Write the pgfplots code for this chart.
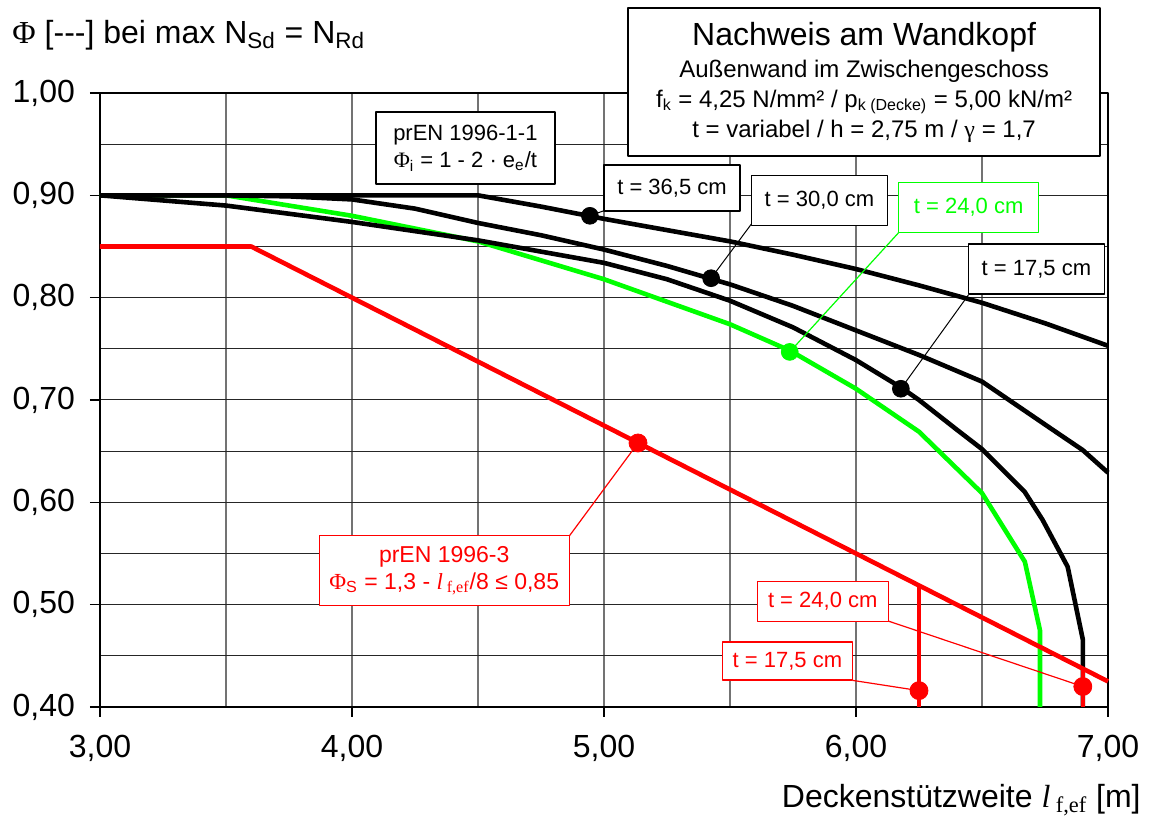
\documentclass[border=0pt]{standalone}
\usepackage{pgfplots}
\pgfplotsset{compat=1.18}
\usepackage{fontspec}
\setmainfont{Liberation Sans}
\newfontfamily\serif{Liberation Serif}
\definecolor{cgreen}{RGB}{0,255,0}
\definecolor{cred}{RGB}{255,0,0}
\newcommand\sub[1]{\textsubscript{#1}}
\begin{document}
\begin{tikzpicture}
\useasboundingbox (-50pt,-58pt) rectangle (525pt,353.5pt);
\begin{axis}[
  at={(0,0)}, anchor=south west,
  width=504pt, height=307pt, scale only axis,
  xmin=3, xmax=7, ymin=0.4, ymax=1.0,
  xtick={3,4,5,6,7}, xticklabels={{3,00},{4,00},{5,00},{6,00},{7,00}},
  minor xtick={3.5,4.5,5.5,6.5},
  ytick={0.4,0.5,0.6,0.7,0.8,0.9,1.0},
  yticklabels={{0,40},{0,50},{0,60},{0,70},{0,80},{0,90},{1,00}},
  minor ytick={0.45,0.55,0.65,0.75,0.85,0.95},
  xmajorgrids, xminorgrids, ymajorgrids, yminorgrids,
  major x grid style={black!55, line width=0.6pt},
  minor x grid style={black!55, line width=0.6pt},
  major y grid style={black!85, line width=0.5pt},
  minor y grid style={black!85, line width=0.5pt},
  tick align=outside, major tick length=5pt, minor tick length=0pt,
  xtick pos=bottom, ytick pos=left,
  tick style={black, line width=0.6pt},
  axis line style={black, line width=1.2pt},
  ticklabel style={font=\fontsize{16}{19}\selectfont},
  xticklabel style={yshift=-5.5pt},
  yticklabel style={xshift=-4pt},
  clip=false,
  line join=round,
]
% curves (green first, black over it)
\addplot[cgreen, line width=2.3pt] coordinates {
(3,0.90) (3.5,0.90) (4.0,0.88) (4.5,0.855) (5.0,0.818) (5.5,0.774) (5.74,0.748)
(6.0,0.711) (6.25,0.669) (6.5,0.609) (6.67,0.542) (6.73,0.475) (6.73,0.40)};
\addplot[black, line width=2.3pt] coordinates {
(3,0.90) (4.5,0.90) (4.75,0.889) (5.0,0.877) (5.25,0.866) (5.5,0.855) (5.75,0.842)
(6.0,0.828) (6.25,0.812) (6.5,0.795) (6.75,0.775) (7.0,0.753)};
\addplot[black, line width=2.3pt] coordinates {
(3,0.90) (3.5,0.90) (3.75,0.899) (4.0,0.896) (4.25,0.887) (4.5,0.873) (4.75,0.861) (5.0,0.847)
(5.25,0.831) (5.5,0.813) (5.75,0.792) (6.0,0.768) (6.25,0.744) (6.5,0.718)
(6.78,0.671) (6.9,0.651) (7.0,0.629)};
\addplot[black, line width=2.3pt] coordinates {
(3,0.90) (3.5,0.89) (4.0,0.874) (4.5,0.856) (5.0,0.834) (5.25,0.818) (5.5,0.797)
(5.75,0.771) (6.0,0.739) (6.18,0.712) (6.25,0.700) (6.4,0.671) (6.5,0.652)
(6.67,0.61) (6.74,0.583) (6.84,0.537) (6.90,0.466) (6.90,0.40)};
\addplot[cred, line width=2.3pt] coordinates {(3,0.85) (3.6,0.85) (7,0.425)};
\addplot[cred, line width=2.3pt] coordinates {(6.25,0.40) (6.25,0.519)};
\addplot[cred, line width=2.3pt] coordinates {(6.90,0.40) (6.90,0.4375)};
% leader lines
\addplot[black, line width=0.5pt] coordinates {(5.0,0.885) (4.944,0.880)};
\addplot[black, line width=0.5pt] coordinates {(5.585,0.872) (5.425,0.819)};
\addplot[cgreen, line width=0.6pt] coordinates {(6.169,0.8635) (5.737,0.747)};
\addplot[black, line width=0.5pt] coordinates {(6.446,0.8026) (6.178,0.711)};
\addplot[cred, line width=0.6pt] coordinates {(4.862,0.567) (5.135,0.658)};
\addplot[cred, line width=0.6pt] coordinates {(6.128,0.484) (6.9,0.42)};
\addplot[cred, line width=0.6pt] coordinates {(5.987,0.426) (6.25,0.416)};
% markers
\addplot[only marks, mark=*, mark size=4.2pt, black] coordinates {(4.944,0.880) (5.425,0.819) (6.178,0.711)};
\addplot[only marks, mark=*, mark size=4.2pt, cgreen, mark options={fill=cgreen}] coordinates {(5.737,0.747)};
\addplot[only marks, mark=*, mark size=4.5pt, cred, mark options={fill=cred}] coordinates {(5.135,0.658) (6.25,0.416) (6.9,0.42)};
% boxes
\node[draw=black, fill=white, line width=0.8pt, align=center, minimum width=89.5pt, minimum height=36pt, inner sep=2pt,
  font=\fontsize{11}{13.5}\selectfont] at (axis cs:4.45,0.946)
  {prEN 1996-1-1\\{\serif Φ}\sub{i} = 1 - 2 · e\sub{e}/t};
\node[draw=black, fill=white, line width=0.8pt, minimum width=68pt, minimum height=23pt, inner sep=2pt,
  font=\fontsize{11}{13.5}\selectfont] at (axis cs:5.27,0.907) {t = 36,5 cm};
\node[draw=black, fill=white, line width=0.8pt, minimum width=68pt, minimum height=25pt, inner sep=2pt,
  font=\fontsize{11}{13.5}\selectfont] at (axis cs:5.855,0.895) {t = 30,0 cm};
\node[draw=cgreen, text=cgreen, fill=white, line width=0.8pt, minimum width=70pt, minimum height=25pt, inner sep=2pt,
  font=\fontsize{11}{13.5}\selectfont] at (axis cs:6.447,0.888) {t = 24,0 cm};
\node[draw=black, fill=white, line width=0.8pt, minimum width=68pt, minimum height=25pt, inner sep=2pt,
  font=\fontsize{11}{13.5}\selectfont] at (axis cs:6.716,0.828) {t = 17,5 cm};
\node[draw=cred, text=cred, fill=white, line width=0.6pt, align=center, minimum width=125pt, minimum height=35pt, inner sep=2pt,
  font=\fontsize{11.5}{13.5}\selectfont] at (axis cs:4.366,0.533)
  {prEN 1996-3\\{\serif Φ}\sub{S} = 1,3 - {\serif\itshape l}\,{\serif\sub{f,ef}}/8 ≤ 0,85};
\node[draw=cred, text=cred, fill=white, line width=0.6pt, minimum width=65.5pt, minimum height=20pt, inner sep=2pt,
  font=\fontsize{11}{13.5}\selectfont] at (axis cs:5.868,0.503) {t = 24,0 cm};
\node[draw=cred, text=cred, fill=white, line width=0.6pt, minimum width=65pt, minimum height=19pt, inner sep=2pt,
  font=\fontsize{11}{13.5}\selectfont] at (axis cs:5.728,0.445) {t = 17,5 cm};
% title box
\node[draw=black, fill=white, line width=0.8pt, align=center, minimum width=236pt, minimum height=74pt, inner sep=2pt,
  font=\fontsize{12}{15}\selectfont] at (axis cs:6.032,1.0107)
  {{\fontsize{16}{19}\selectfont Nachweis am Wandkopf}\\[1pt]
   Außenwand im Zwischengeschoss\\
   f\sub{k} = 4,25 N/mm² / p\sub{k (Decke)} = 5,00 kN/m²\\
   t = variabel / h = 2,75 m / {\serif γ} = 1,7};
% axis labels
\node[anchor=west, inner sep=0pt, font=\fontsize{16}{19}\selectfont] at (axis cs:2.651,1.0567)
  {{\serif Φ} [-{}-{}-] bei max N\sub{Sd} = N\sub{Rd}};
\node[anchor=east, inner sep=0pt, font=\fontsize{16}{19}\selectfont] at (axis cs:7.131,0.309)
  {Deckenstützweite {\serif\itshape l}\,{\serif\sub{f,ef}} [m]};
\end{axis}
\end{tikzpicture}
\end{document}
